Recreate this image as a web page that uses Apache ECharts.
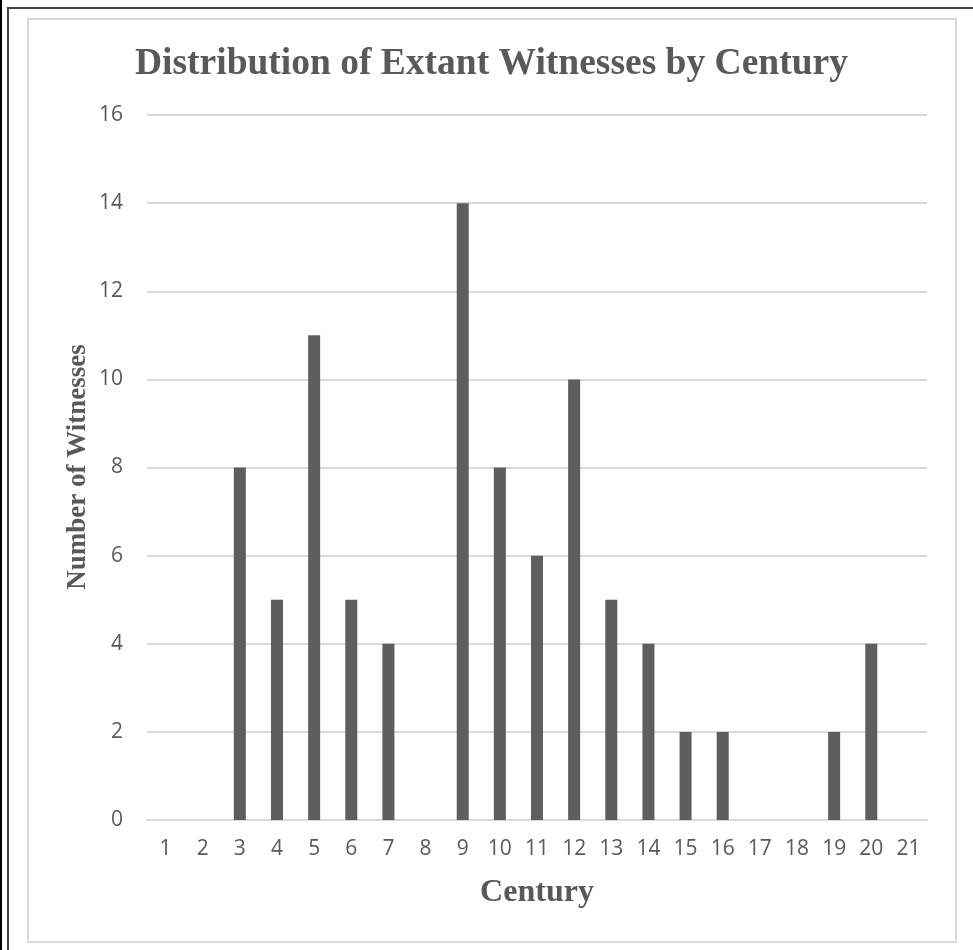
<!DOCTYPE html>
<html>
<head>
<meta charset="utf-8">
<script src="https://cdn.jsdelivr.net/npm/echarts@6/dist/echarts.min.js"></script>
<style>
html,body{margin:0;padding:0;background:#fff;}
#wrap{position:relative;width:973px;height:950px;overflow:hidden;}
#b1{position:absolute;left:0;top:0;width:2px;height:950px;background:#000;}
#b2{position:absolute;left:7px;top:7px;width:980px;height:960px;border-left:2px solid #404040;border-top:2px solid #404040;box-sizing:border-box;}
#b3{position:absolute;left:27px;top:18px;width:930px;height:925px;border:2px solid #d9d9d9;box-sizing:border-box;}
#chart{position:absolute;left:0;top:0;width:973px;height:950px;}
</style>
</head>
<body>
<div id="wrap">
<div id="b1"></div><div id="b2"></div><div id="b3"></div>
<div id="chart"></div>
</div>
<script>
const centuries = ['1','2','3','4','5','6','7','8','9','10','11','12','13','14','15','16','17','18','19','20','21'];
const witnesses = [0,0,8,5,11,5,4,0,14,8,6,10,5,4,2,2,0,0,2,4,0];
const yTicks = {min:0, max:16, interval:2};
const yAxisTitle = 'Number of Witnesses';

const chart = echarts.init(document.getElementById('chart'));
chart.setOption({
  animation:false,
  title:{
    text:'Distribution of Extant Witnesses by Century',
    left:130, top:40,
    textStyle:{fontFamily:'Liberation Serif', fontWeight:'bold', fontSize:37.5, color:'#595959'}
  },
  graphic:[{
    type:'text', x:78, y:467, rotation:Math.PI/2,
    style:{text:yAxisTitle, fill:'#595959', font:'bold 27px "Liberation Serif"', align:'center', verticalAlign:'middle'}
  }],
  grid:{left:147, right:46, top:115, bottom:130},
  xAxis:{
    type:'category', data:centuries,
    name:'Century', nameLocation:'middle', nameGap:57,
    nameTextStyle:{fontFamily:'Liberation Serif', fontWeight:'bold', fontSize:32, color:'#595959'},
    axisLine:{show:true, lineStyle:{color:'#d9d9d9', width:2}},
    axisTick:{show:false},
    axisLabel:{fontFamily:'Open Sans', fontSize:21, color:'#595959', margin:19, interval:0}
  },
  yAxis:{
    type:'value', min:yTicks.min, max:yTicks.max, interval:yTicks.interval,
    axisLine:{show:false}, axisTick:{show:false},
    splitLine:{lineStyle:{color:'#d9d9d9', width:2}},
    axisLabel:{fontFamily:'Open Sans', fontSize:21, color:'#595959', margin:24}
  },
  series:[{
    type:'bar', data:witnesses, barWidth:12,
    itemStyle:{color:'#5e5e5e'}
  }]
});
</script>
</body>
</html>
